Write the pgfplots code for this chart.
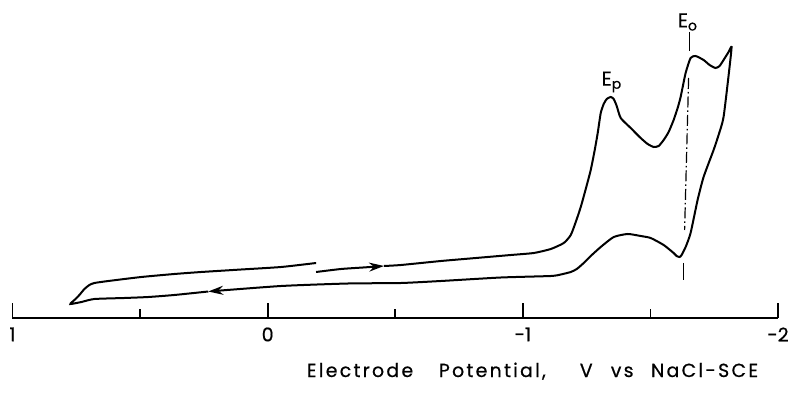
\documentclass[border=0pt]{standalone}
\usepackage{pgfplots}
\pgfplotsset{compat=1.18}
\usepackage{fontspec}
\setmainfont{Poppins}[FakeBold=0.6]
\usetikzlibrary{arrows.meta}
\begin{document}
\begin{tikzpicture}
\useasboundingbox (0,0) rectangle (792bp,393bp);
\begin{axis}[
  at={(12.5bp,75bp)}, anchor=south west,
  scale only axis, width=765.5bp, height=318bp,
  xmin=-2, xmax=1, ymin=0, ymax=318,
  x dir=reverse,
  axis x line=bottom, axis y line=none,
  xtick={1,0,-1,-2}, xticklabels={1,0,-1,-2},
  minor xtick={0.5,-0.5,-1.5},
  tick align=inside,
  major tick length=15bp, minor tick length=9bp,
  every tick/.style={black, line width=1.8bp},
  x axis line style={black, line width=2.8bp, -},
  xticklabel style={font=\fontsize{19}{19}\selectfont, anchor=north, yshift=-6bp},
  clip=false,
]
% forward scan, first part with arrow
\addplot[black, line width=2bp, smooth, tension=0.4, -{Stealth[length=15bp,width=9bp]}] coordinates {
(-0.1898,46) (-0.2877,49) (-0.3738,50.5) (-0.4560,52)};
% forward scan to reversal and back
\addplot[black, line width=2bp, smooth, tension=0.35, -{Stealth[length=15bp,width=9bp]}] coordinates {
(-0.4560,52) (-0.5225,53) (-0.6791,57) (-0.8160,60) (-0.9530,63) (-1.0430,65)
(-1.1096,69) (-1.1605,75) (-1.1879,83) (-1.2074,96) (-1.2270,111) (-1.2466,129)
(-1.2661,148) (-1.2818,168) (-1.2935,185) (-1.3053,205) (-1.3170,214) (-1.3288,219)
(-1.3444,221) (-1.3562,219) (-1.3679,212) (-1.3836,200) (-1.4227,190) (-1.4618,180)
(-1.4892,174) (-1.5127,171) (-1.5323,172) (-1.5519,178) (-1.5714,186) (-1.5910,198)
(-1.6067,210) (-1.6184,221) (-1.6380,245) (-1.6575,260) (-1.6771,262) (-1.7084,258)
(-1.7319,253) (-1.7554,250) (-1.7710,252) (-1.7867,258) (-1.8063,266) (-1.8180,271)
(-1.8102,251) (-1.7867,201) (-1.7671,183) (-1.7476,168) (-1.7084,141) (-1.6849,118)
(-1.6575,85) (-1.6380,71) (-1.6223,63) (-1.6145,61) (-1.6027,62) (-1.5910,65)
(-1.5519,73) (-1.5010,80) (-1.4618,82) (-1.4110,84) (-1.3562,81) (-1.3053,71)
(-1.2661,62) (-1.2387,55) (-1.2114,49) (-1.1879,46) (-1.1487,43.5) (-1.1096,42)
(-0.9139,40.5) (-0.6791,37) (-0.5225,35) (-0.3151,34.5) (-0.0528,32) (0.2329,26.5)};
% return to start
\addplot[black, line width=2bp, smooth, tension=0.35] coordinates {
(0.2329,26.5) (0.3659,23) (0.4677,21) (0.5616,20) (0.6791,19) (0.7299,16) (0.7730,14)
(0.7573,18) (0.7378,23) (0.7182,29) (0.6986,33) (0.6791,35) (0.6243,37) (0.4951,41)
(0.3659,44) (0.2603,46) (0.1037,48.5) (-0.0528,51) (-0.1898,55)};
% E_o marker line
\addplot[black, line width=1.2bp, dash pattern=on 11bp off 3bp on 1.5bp off 3bp] coordinates {(-1.6497,240) (-1.6340,88)};
\addplot[black, line width=1.5bp] coordinates {(-1.6536,286) (-1.6536,267)};
\addplot[black, line width=1.5bp] coordinates {(-1.6300,55) (-1.6300,38)};
\node[font=\fontsize{20}{20}\selectfont] at (axis cs:-1.348,236) {E\textsubscript{p}};
\node[font=\fontsize{20}{20}\selectfont] at (axis cs:-1.6458,296) {E\textsubscript{o}};
\begin{scope}[every node/.style={anchor=base, font=\fontsize{19}{19}\selectfont\addfontfeatures{LetterSpace=12}}]
\node at (axis cs:-0.362,-59) {Electrode};
\node at (axis cs:-0.8806,-59) {Potential,};
\node at (axis cs:-1.2485,-59) {V};
\node at (axis cs:-1.3894,-59) {vs};
\node at (axis cs:-1.7123,-59) {NaCl-SCE};
\end{scope}
\end{axis}
\end{tikzpicture}
\end{document}
